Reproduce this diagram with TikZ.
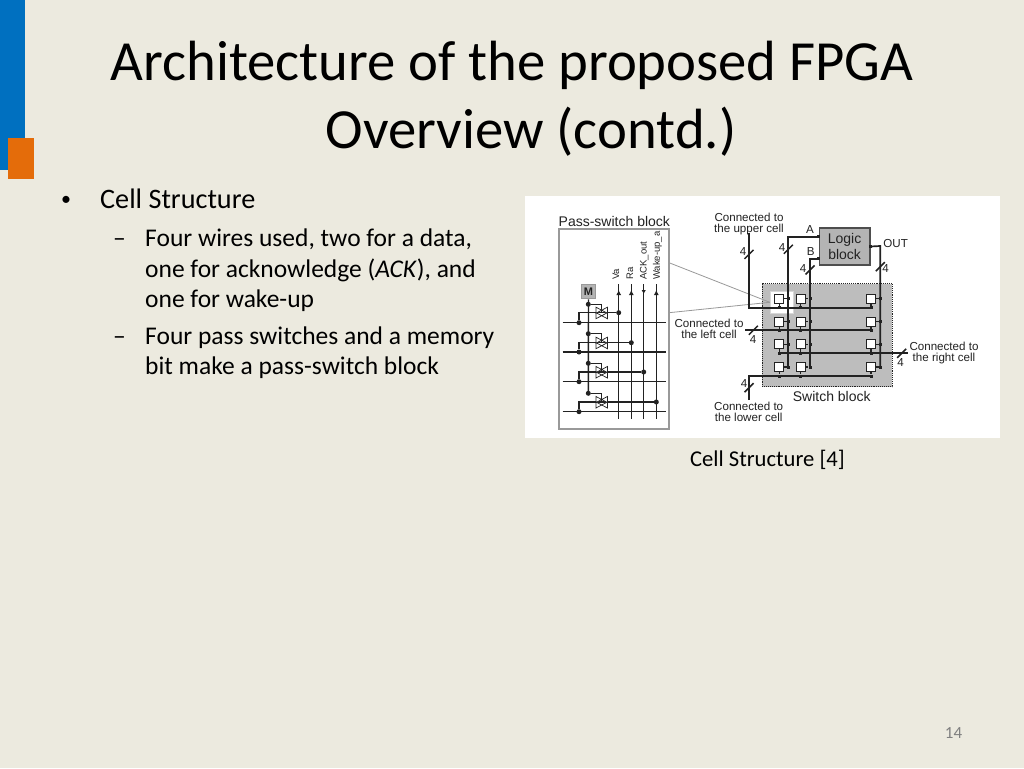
\documentclass[tikz,border=0pt]{standalone}
\usepackage{fontspec}
\setmainfont{Carlito}
\newfontfamily\figfont{Liberation Sans}
\usetikzlibrary{arrows.meta}
\definecolor{slidebg}{HTML}{ECEADF}
\definecolor{barblue}{HTML}{0070C0}
\definecolor{barorange}{HTML}{E46C0A}
\definecolor{figink}{HTML}{222222}
\definecolor{figgrey}{HTML}{BDBDBD}
\definecolor{logicgrey}{HTML}{B4B4B4}
\definecolor{edgegrey}{HTML}{999999}
\tikzset{
  titletext/.style={font=\fontsize{56.7}{68}\selectfont,text=black,anchor=base,inner sep=0pt},
  bodyone/.style={font=\fontsize{28.2}{34}\selectfont,text=black,anchor=base west,inner sep=0pt},
  bodytwo/.style={font=\fontsize{25.5}{30}\selectfont,text=black,anchor=base west,inner sep=0pt},
  wire/.style={draw=figink,line width=1.7pt},
  thinwire/.style={draw=figink,line width=1.4pt},
  figlabel/.style={font=\figfont\fontsize{11.6}{11}\selectfont,text=figink,inner sep=0pt,align=center},
  figtitle/.style={font=\figfont\fontsize{14}{15}\selectfont,text=figink,inner sep=0pt},
  dotnode/.style={circle,fill=figink,inner sep=0pt,minimum size=5pt},
  smalldot/.style={rectangle,fill=figink,inner sep=0pt,minimum size=3pt},
  cellbox/.style={draw=figink,fill=white,line width=0.7pt,inner sep=0pt,minimum size=9pt},
  callout/.style={draw=edgegrey,line width=0.8pt},
  tick/.style={draw=figink,line width=1.5pt},
  upmark/.style={-{Latex[length=5pt,width=5pt]},draw=figink,line width=1.2pt},
  downmark/.style={-{Latex[length=4pt,width=4.5pt]},draw=figink,line width=1.2pt},
}
\begin{document}
\begin{tikzpicture}[x=1pt,y=-1pt]
\useasboundingbox (0,0) rectangle (1024,768);
\fill[slidebg] (0,0) rectangle (1024,768);
\fill[barblue] (0,0) rectangle (25,170);
\fill[barorange] (8,138) rectangle (34,179);

% title and body
\node[titletext] (title1) at (512,80) {Architecture of the proposed FPGA};
\node[titletext] (title2) at (531,148.5) {Overview (contd.)};
\node[font=\fontsize{20}{24}\selectfont,text=black,inner sep=0pt,anchor=base] (bul) at (66,205) {•};
\node[bodyone] (b0) at (100,208) {Cell Structure};
\node[bodytwo] (d1) at (113,246) {–};
\node[bodytwo] (l1) at (145,246) {Four wires used, two for a data,};
\node[bodytwo] (l2) at (145,277) {one for acknowledge (\textit{ACK}), and};
\node[bodytwo] (l3) at (145,307) {one for wake-up};
\node[bodytwo] (d2) at (113,344) {–};
\node[bodytwo] (l4) at (145,344) {Four pass switches and a memory};
\node[bodytwo] (l5) at (145,374) {bit make a pass-switch block};
\node[font=\fontsize{22.6}{26}\selectfont,text=black,inner sep=0pt,anchor=base] (cap) at (767.5,466.5) {Cell Structure [4]};
\node[font=\fontsize{17}{20}\selectfont,text=black!50,inner sep=0pt,anchor=base] (pg) at (953.5,738) {14};

% figure panel
\fill[white] (525,196) rectangle (1000,438);

% pass-switch block
\node[figtitle,anchor=west] (pstitle) at (558.5,221) {Pass-switch block};
\node[draw=edgegrey,line width=1.2pt,fill=white,inner sep=0pt,minimum width=110pt,minimum height=200pt] (psb) at (614,329) {};
\coordinate (psbU) at (669,262.7);
\coordinate (psbL) at (669,312.7);

\foreach \i/\y in {1/322.7,2/352,3/381.7,4/411.7}{
  \coordinate (hL\i) at (562.7,\y);
  \coordinate (hR\i) at (665.7,\y);
  \draw[thinwire] (hL\i) -- (hR\i);
}
\foreach \n/\x in {1/618.7,2/631.3,3/643.7,4/656.3}{
  \coordinate (vT\n) at (\x,284);
  \coordinate (vB\n) at (\x,419);
  \draw[thinwire] (vT\n) -- (vB\n);
}
\draw[upmark] (618.7,296) -- (618.7,290);
\draw[upmark] (631.3,296) -- (631.3,290);
\draw[downmark] (643.7,289) -- (643.7,294);
\draw[upmark] (656.3,296) -- (656.3,290);

\node[draw=edgegrey,fill=logicgrey,line width=1.2pt,inner sep=0pt,minimum size=14.5pt,font=\figfont\fontsize{11}{12}\selectfont\bfseries,text=figink] (M) at (588.5,291.5) {M};
\coordinate (mEnd) at (588.3,393.3);
\draw[thinwire] (M) -- (mEnd);

\foreach \i/\ym/\ys/\yh/\n/\x in {1/304.3/312.7/322.7/1/618.7,2/333.7/342.7/352/2/631.3,3/363.3/372/381.7/3/643.7,4/393.3/402/411.7/4/656.3}{
  \node[dotnode] (mdot\i) at (588.3,\ym) {};
  \node[dotnode] (hdot\i) at (579,\yh) {};
  \node[dotnode] (vdot\i) at (\x,\ys) {};
  \coordinate (sw\i) at (601.7,\ys);
  \coordinate (swT\i) at (601.7,\ym);
  \coordinate (hUp\i) at (579,\ys);
  \draw[thinwire] (mdot\i) -- (swT\i) -- (sw\i);
  \draw[thinwire] (hdot\i) -- (hUp\i) -- (vdot\i);
  % transmission gate
  \draw[figink,line width=0.7pt,fill=white] (596,\ys-5.5) -- (607.4,\ys+0.5) -- (607.4,\ys-5.5) -- (596,\ys+0.5) -- cycle;
  \draw[figink,line width=0.7pt,fill=white] (596,\ys+6) -- (607.4,\ys) -- (607.4,\ys+6) -- (596,\ys) -- cycle;
}

\begin{scope}[every node/.style={figlabel,font=\figfont\fontsize{9.5}{10}\selectfont,rotate=90,anchor=west}]
\node (va) at (615.8,280) {Va};
\node (ra) at (630,280) {Ra};
\node (ack) at (644.3,280) {ACK\_out};
\node (wake) at (657.5,280) {Wake-up\_a};
\end{scope}

% switch block
\node[draw=figink,densely dotted,line width=0.9pt,fill=figgrey,inner sep=0pt,minimum width=130pt,minimum height=103pt] (swb) at (827.3,335.2) {};
\node[draw=figgrey!60,fill=white,line width=0.5pt,inner sep=0pt,minimum width=23.3pt,minimum height=22.7pt] (hl) at (781.7,302.3) {};
\draw[callout] (psbU) -- (hl.west);
\draw[callout] (psbL) -- (hl.west);

% logic block
\node[draw=figink!80,fill=logicgrey,line width=1.2pt,inner sep=0pt,minimum width=50.7pt,minimum height=37pt,align=center,font=\figfont\fontsize{14}{16}\selectfont,text=figink] (logic) at (844.6,246.5) {Logic\\block};

% cells
\foreach \r/\y in {1/298.7,2/321.7,3/344.3,4/367}{
  \foreach \c/\x in {1/779.3,2/800.7,3/871}{
    \coordinate (cp\r\c) at (\x,\y);
  }
}
% horizontal buses
\coordinate (upT) at (749,232.7);
\coordinate (upC) at (749,307.7);
\coordinate (hE1) at (871,307.7);
\coordinate (lfS) at (745,330.3);
\coordinate (hE2) at (871,330.3);
\coordinate (hS3) at (779.3,353.3);
\coordinate (rtE) at (908.3,353.3);
\coordinate (loB) at (749,400);
\coordinate (loC) at (749,376);
\coordinate (hE4) at (871,376);
\draw[wire] (upT) -- (upC) -- (hE1);
\draw[wire] (lfS) -- (hE2);
\draw[wire] (hS3) -- (rtE);
\draw[wire] (loB) -- (loC) -- (hE4);

% vertical buses
\coordinate (aC) at (788.3,236.7);
\coordinate (aE) at (788.3,367);
\coordinate (aI) at (logic.west |- aC);
\coordinate (bC) at (810,258.7);
\coordinate (bE) at (810,367);
\coordinate (bI) at (logic.west |- bC);
\coordinate (oC) at (880.3,246);
\coordinate (oE) at (880.3,367);
\draw[wire] (aI) -- (aC) -- (aE);
\draw[wire] (bI) -- (bC) -- (bE);
\draw[wire] (logic.east) -- (oC) -- (oE);
\node[smalldot] (lo) at (logic.east) {};
\node[smalldot] (la) at (aI) {};
\node[smalldot] (lb) at (bI) {};

\foreach \r/\y/\yh in {1/298.7/307.7,2/321.7/330.3,3/344.3/353.3,4/367/376}{
  \foreach \c/\x/\xv in {1/779.3/788.3,2/800.7/810,3/871/880.3}{
    \node[smalldot] (cr\r\c) at (\xv,\y) {};
    \node[smalldot] (cd\r\c) at (\x,\yh) {};
    \draw[thinwire] (cp\r\c) -- (cr\r\c);
    \draw[thinwire] (cp\r\c) -- (cd\r\c);
    \node[cellbox] (cell\r\c) at (cp\r\c) {};
  }
}

% bus ticks and widths
\foreach \n/\x/\y/\lx/\ly in {1/749/254.3/743/252,2/788.3/249.3/782/248,3/810/270/803/269,4/880.3/266.7/885.7/268.7,5/749/387.7/744/384,6/753.3/330.3/753/340,7/901.7/353.3/900.7/362.7}{
  \coordinate (tA\n) at (\x-4.5,\y+4.5);
  \coordinate (tB\n) at (\x+4.5,\y-4.5);
  \draw[tick] (tA\n) -- (tB\n);
  \node[figlabel] (four\n) at (\lx,\ly) {4};
}

% figure labels
\node[figlabel] (upper) at (749,224.3) {Connected to\\the upper cell};
\node[figlabel] (left) at (709,329.3) {Connected to\\the left cell};
\node[figlabel] (right) at (944,352.6) {Connected to\\the right cell};
\node[figlabel] (lower) at (748.7,412) {Connected to\\the lower cell};
\node[figtitle] (swt) at (831.7,396.7) {Switch block};
\node[figlabel] (outl) at (895.7,243.7) {OUT};
\node[figlabel] (al) at (810,230) {A};
\node[figlabel] (bl) at (810.7,252) {B};
\end{tikzpicture}
\end{document}
